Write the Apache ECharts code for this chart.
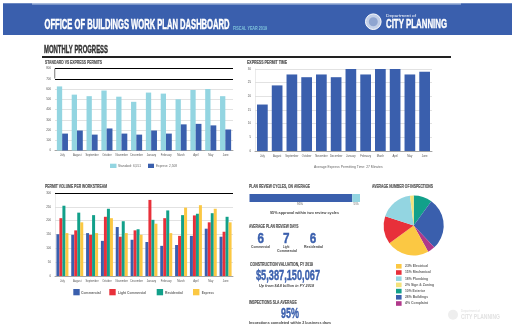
<!DOCTYPE html>
<html><head><meta charset="utf-8"><style>html,body{margin:0;padding:0;background:#fff}#c{width:512px;height:324px}</style>
<script src="https://cdn.jsdelivr.net/npm/echarts@6/dist/echarts.min.js"></script></head><body><div id="c"></div>
<script>
const months=['July','August','September','October','November','December','January','February','March','April','May','June'];
const standard=[625,545,530,585,525,475,565,555,500,590,600,530];
const express=[165,195,155,215,165,155,195,165,255,260,245,205];
const permitTime=[17,24,28,27,28,27,30,28,30,30,28,29];
const commercial=[151,149,155,127,177,131,123,109,112,145,171,142];
const lightCommercial=[209,165,149,214,142,165,275,209,145,219,194,160];
const residential=[254,229,220,243,198,169,203,237,220,225,227,214];
const expressVolume=[155,194,155,209,155,149,189,155,247,256,243,194];
const cycleLow=[93];
const cycleHigh=[7];
const pieNames=['10% Exterior','28% Buildings','4% Complaint','23% Electrical','15% Mechanical','18% Plumbing','2% Sign & Zoning'];
const pieValues=[10,28,4,23,15,18,2];
const legendOrder=['23% Electrical','15% Mechanical','18% Plumbing','2% Sign & Zoning','10% Exterior','28% Buildings','4% Complaint'];
const legendWidths=[23,25.7,23,29,20,23,23];
const BLUE='#3a5fad',LIGHT='#93d5e1',RED='#e8303a',TEAL='#12a08a',YEL='#fbc843';
const pieColors=[TEAL,BLUE,'#b0388a',YEL,RED,LIGHT,'#f3e27a'];
const FONT='"Liberation Sans",sans-serif';
const chart=echarts.init(document.getElementById('c'),null,{renderer:'canvas'});
const grids=[{left:55,top:68.5,width:178,height:82},{left:255,top:69,width:177,height:82},{left:55,top:193,width:178,height:83},{left:249.5,top:194,width:110.5,height:8}];
const xAx=i=>({type:'category',gridIndex:i,data:months,axisTick:{show:false},axisLine:{lineStyle:{color:'#a5a5a5',width:1}},
 axisLabel:{fontSize:2.7,color:'#555',interval:0,margin:3.5,fontFamily:FONT}});
const yAx=(i,max,interval,showLine)=>({type:'value',gridIndex:i,min:0,max,interval,axisLine:{show:showLine,lineStyle:{color:'#ddd',width:.6}},axisTick:{show:false},
 splitLine:{lineStyle:{color:'#e2e2e2',width:1}},axisLabel:{fontSize:2.9,color:'#555',margin:4,fontFamily:FONT}});
const black=vals=>({silent:true,symbol:'none',label:{show:false},lineStyle:{color:'#000',width:1,type:'solid'},data:vals.map(v=>({yAxis:v}))});
const mctx=document.createElement('canvas').getContext('2d');
const t=(x,y,text,size,color,w,extra)=>{
 const st=Object.assign({text,fontSize:size,fill:color,fontFamily:FONT,fontWeight:'bold',align:'left',verticalAlign:'middle'},extra||{});
 mctx.font=`${st.fontStyle||''} ${st.fontWeight} ${size}px ${FONT}`;
 return {type:'text',x,y,scaleX:w/mctx.measureText(text).width,silent:true,style:st};
};
const N={fontWeight:'normal'};
const H=(c,w)=>({stroke:c,lineWidth:w});
const r=(x,y,w,h,fill)=>({type:'rect',silent:true,shape:{x,y,width:w,height:h},style:{fill}});
const LG='#555';
const graphic=[
 r(3,3.3,509,31.7,BLUE),r(32,3.3,429,1.2,'#b8c9e4'),
 t(44.5,25.3,'OFFICE OF BUILDINGS WORK PLAN DASHBOARD',14.5,'#fff',185,H('#fff',.5)),
 t(233,28,'FISCAL YEAR 2019',5.5,'#7fc4dc',34),
 {type:'circle',silent:true,shape:{cx:373.3,cy:21.7,r:7.8},style:{fill:'#c3d0e8',stroke:'#fff',lineWidth:1}},
 {type:'circle',silent:true,shape:{cx:373.3,cy:21.7,r:4.5},style:{fill:'#8fa5d0'}},
 t(386,16.3,'Department of',4,'#fff',30,N),
 t(386,24.7,'CITY PLANNING',13,'#fff',61,H('#fff',.4)),
 t(44,50.5,'MONTHLY PROGRESS',10.5,'#333',64,H('#333',.4)),
 r(42,56,409,2,'#222'),
 t(45,62,'STANDARD VS EXPRESS PERMITS',5.5,LG,57,H(LG,.2)),
 t(247,62,'EXPRESS PERMIT TIME',5.5,LG,40,H(LG,.2)),
 t(45,186.5,'PERMIT VOLUME PER WORKSTREAM',5.5,LG,62,H(LG,.2)),
 r(54.4,68.5,.8,10,'#555'),
 r(110,163.7,6.5,4.3,LIGHT),t(118,165.8,'Standard: 6,551',3.4,'#666',23,N),
 r(148,163.7,6,4.3,BLUE),t(156,165.8,'Express: 2,508',3.4,'#666',21,N),
 t(314,167,'Average Express Permitting Time: 27 Minutes',3.4,'#666',68.7,N),
 r(73.3,289,6.4,6.3,BLUE),t(81,292.7,'Commercial',3.6,'#666',19.7),
 r(109.3,289,6.4,6.3,RED),t(118,292.7,'Light Commercial',3.6,'#666',28),
 r(156.7,289,6.4,6.3,TEAL),t(165,292.7,'Residential',3.6,'#666',17.7),
 r(193,289,6.4,6.3,YEL),t(201.7,292.7,'Express',3.6,'#666',12.3),
 t(249,186.5,'PLAN REVIEW CYCLES, ON AVERAGE',5.8,LG,61,H(LG,.2)),
 t(298,197.8,'1-2',3.2,'#fff',5),t(354,197.8,'3+',3.2,'#fff',3.5),
 t(297,204,'95%',3,'#555',6,N),t(353.5,204,'5%',3,'#555',5,N),
 t(270,213,'95% approval within two review cycles',3.6,'#444',69),
 t(249,226.5,'AVERAGE PLAN REVIEW DAYS',5.8,LG,49.5,H(LG,.2)),
 t(257.5,238.7,'6',14,BLUE,6.5,H(BLUE,.4)),t(283,238.7,'7',14,BLUE,6.5,H(BLUE,.4)),t(309.7,238.7,'6',14,BLUE,6.5,H(BLUE,.4)),
 t(251,246.7,'Commercial',3.2,'#444',19),t(283,246.7,'Light',3.2,'#444',6.5),t(277,250.7,'Commercial',3.2,'#444',20),t(304,246.7,'Residential',3.2,'#444',19),
 t(250,264.3,'CONSTRUCTION VALUATION, FY 2019',5.8,LG,63,H(LG,.2)),
 t(256,276,'$5,387,150,067',14,BLUE,64,H(BLUE,.4)),
 t(259,286.3,'Up from $4.8 billion in FY 2018',3.6,'#444',55,{fontStyle:'italic'}),
 t(249,302.7,'INSPECTIONS SLA AVERAGE',5.8,LG,47.7,H(LG,.2)),
 t(281,314,'95%',14,BLUE,18,H(BLUE,.4)),
 t(249,323,'Inspections completed within 2 business days',3.6,'#444',82),
 t(372,186.7,'AVERAGE NUMBER OF INSPECTIONS',5.5,LG,61,H(LG,.2)),
 ...legendOrder.flatMap((n,i)=>[r(396,264+i*6.2,5.6,4.6,pieColors[pieNames.indexOf(n)]),t(405,266.3+i*6.2,n,3.2,'#666',legendWidths[i])]),
 {type:'circle',silent:true,shape:{cx:453,cy:314.7,r:5},style:{fill:'#eee'}},
 t(461,311,'Department of',2.6,'#ddd',19,N),
 t(461,317,'CITY PLANNING',8,'#e2e2e2',39)
];
const bar=(name,data,color,i,w,gap,extra)=>Object.assign({type:'bar',name,data,xAxisIndex:i,yAxisIndex:i,barWidth:w,barGap:gap,itemStyle:{color},silent:true,animation:false},extra||{});
chart.setOption({animation:false,backgroundColor:'#fff',grid:grids,
 xAxis:[xAx(0),xAx(1),xAx(2),{type:'value',gridIndex:3,min:0,max:100,show:false}],
 yAxis:[yAx(0,800,100,false),yAx(1,30,5,true),yAx(2,300,50,true),{type:'category',gridIndex:3,data:['cycles'],show:false}],
 series:[
  bar('Standard',standard,LIGHT,0,5.3,'0%',{markLine:black([700,800])}),
  bar('Express',express,BLUE,0,5.8,'0%'),
  bar('Permit time',permitTime,BLUE,1,10.7,'0%'),
  bar('Commercial',commercial,BLUE,2,3,'0%',{markLine:black([300])}),
  bar('Light Commercial',lightCommercial,RED,2,3,'0%'),
  bar('Residential',residential,TEAL,2,3,'0%'),
  bar('Express',expressVolume,YEL,2,3,'0%'),
  bar('1-2',cycleLow,BLUE,3,8,'0%',{stack:'c'}),
  bar('3+',cycleHigh,LIGHT,3,8,'0%',{stack:'c'}),
  {type:'pie',silent:true,center:[413.7,225.5],radius:[0,30],startAngle:90,clockwise:true,label:{show:false},labelLine:{show:false},
   data:pieNames.map((n,i)=>({name:n,value:pieValues[i],itemStyle:{color:pieColors[i]}}))}
 ],
 graphic:{elements:graphic}
});
</script></body></html>
